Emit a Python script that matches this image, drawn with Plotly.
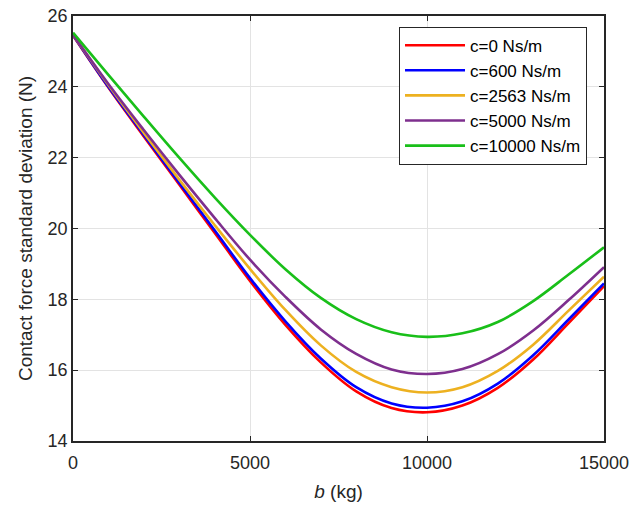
import plotly.graph_objects as go

b_values = [0, 1000, 2000, 3000, 4000, 5000, 6000, 7000, 8000, 9000,
            10000, 11000, 12000, 13000, 14000, 15000]

series_names = ["c=0 Ns/m", "c=600 Ns/m", "c=2563 Ns/m", "c=5000 Ns/m", "c=10000 Ns/m"]

c0 = [25.45, 23.98, 22.60, 21.24, 19.88, 18.52, 17.28, 16.22, 15.40, 14.93,
      14.81, 15.00, 15.50, 16.30, 17.33, 18.37]
c600 = [25.46, 24.00, 22.64, 21.29, 19.95, 18.60, 17.38, 16.33, 15.52, 15.06,
        14.94, 15.12, 15.62, 16.42, 17.43, 18.45]
c2563 = [25.47, 24.05, 22.70, 21.38, 20.10, 18.86, 17.70, 16.70, 15.95, 15.52,
         15.37, 15.52, 15.98, 16.72, 17.68, 18.64]
c5000 = [25.47, 24.08, 22.78, 21.52, 20.30, 19.12, 18.07, 17.15, 16.46, 16.02,
         15.89, 16.03, 16.45, 17.12, 17.98, 18.91]
c10000 = [25.53, 24.34, 23.16, 22.00, 20.88, 19.82, 18.85, 18.04, 17.44, 17.07,
          16.94, 17.04, 17.36, 17.95, 18.70, 19.47]

all_series = [c0, c600, c2563, c5000, c10000]
colors = ["#ff0000", "#0000ff", "#edb120", "#7e2f8e", "#19bf19"]

x_ticks = [0, 5000, 10000, 15000]
y_ticks = [14, 16, 18, 20, 22, 24, 26]

FONT = "Arial, Liberation Sans, sans-serif"
AX = "#262626"

fig = go.Figure()
for name, ys, col in zip(series_names, all_series, colors):
    fig.add_trace(go.Scatter(
        x=b_values, y=ys, name=name, mode="lines",
        line=dict(color=col, width=2.6, shape="spline", smoothing=1.0),
    ))

axis_common = dict(
    showline=True, linecolor=AX, linewidth=1.5, mirror="ticks",
    ticks="inside", ticklen=5, tickwidth=1, tickcolor=AX,
    showgrid=True, gridcolor="#e3e3e3", gridwidth=1,
    zeroline=False, ticklabeloverflow="allow", automargin=False,
    tickfont=dict(family=FONT, size=18, color=AX),
)

fig.update_layout(
    width=629, height=505,
    margin=dict(l=73, r=25, t=16, b=64),
    paper_bgcolor="white", plot_bgcolor="white",
    font=dict(family=FONT, color=AX),
    xaxis=dict(range=[0, 15000], tickvals=x_ticks, ticktext=[str(v) for v in x_ticks],
               ticklabelstandoff=5,
               title=dict(text="<i>b</i> (kg)", font=dict(family=FONT, size=19, color=AX), standoff=12),
               **axis_common),
    yaxis=dict(range=[14, 26], tickvals=y_ticks,
               title=dict(text="Contact force standard deviation (N)", font=dict(family=FONT, size=19, color=AX), standoff=10),
               **axis_common),
    legend=dict(
        x=0.968, y=0.975, xanchor="right", yanchor="top",
        bgcolor="white", bordercolor=AX, borderwidth=1,
        font=dict(family=FONT, size=17, color="#000000"),
        itemwidth=60, tracegroupgap=0,
    ),
    showlegend=True,
)

fig.write_html("out.html")
